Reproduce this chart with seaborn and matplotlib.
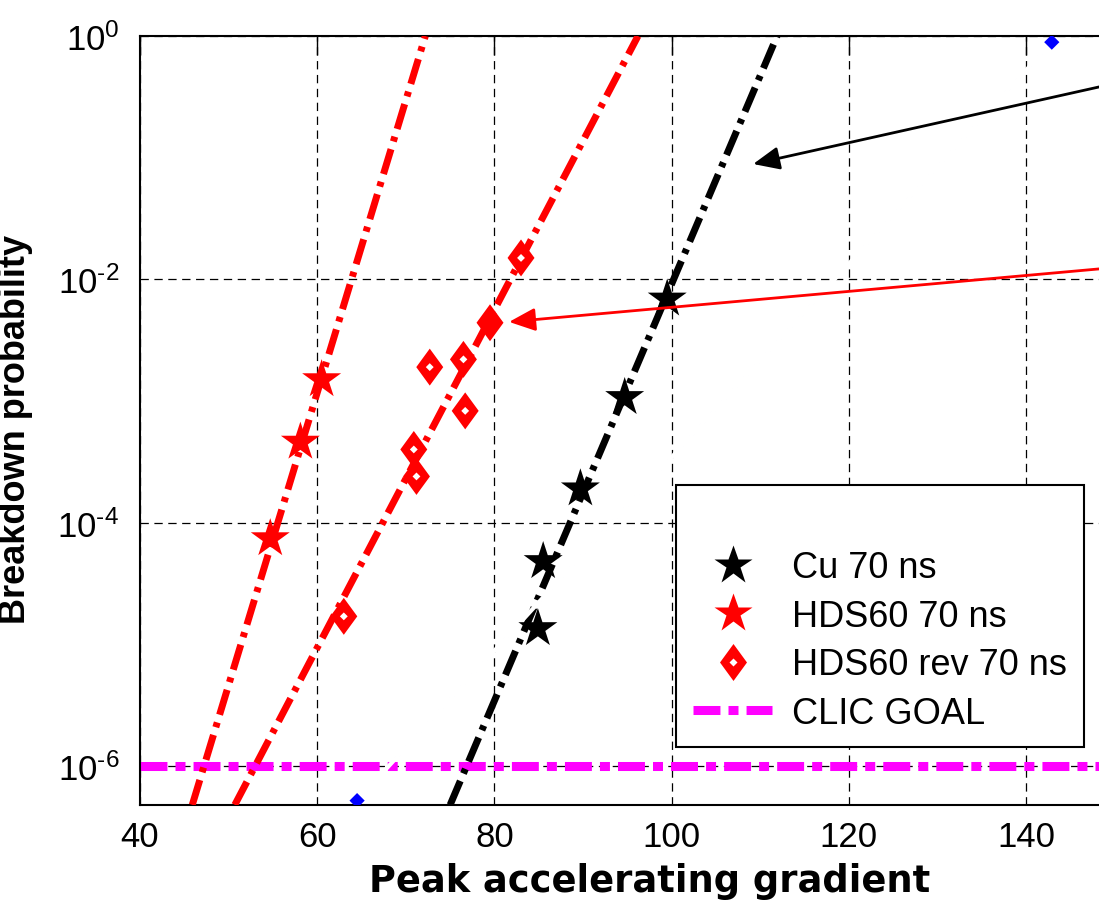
import numpy as np
import matplotlib
matplotlib.use('Agg')
import matplotlib.pyplot as plt
import seaborn as sns
from matplotlib.lines import Line2D
from matplotlib.legend_handler import HandlerTuple
from matplotlib.ticker import FixedLocator, FuncFormatter, NullLocator

# Cu 70 ns, black stars
cu_grad = [84.9, 85.5, 89.7, 94.7, 99.5]
cu_bdr = [1.35e-5, 4.8e-5, 1.9e-4, 1.07e-3, 6.9e-3]

# HDS60 70 ns, red stars
hds_grad = [54.7, 58.1, 60.5]
hds_bdr = [7.4e-5, 4.6e-4, 1.5e-3]

# HDS60 rev 70 ns, red diamonds (open ones + the filled one the arrow points at)
rev_grad = [63.0, 71.2, 70.9, 76.7, 72.7, 76.5, 83.0]
rev_bdr = [1.7e-5, 2.4e-4, 4.0e-4, 8.3e-4, 1.9e-3, 2.2e-3, 1.5e-2]
rev_hi_grad = [79.5]
rev_hi_bdr = [4.4e-3]

# fitted lines, end points
hds_fit_grad = [45.9, 72.2]
hds_fit_bdr = [4.8e-7, 1.0]
rev_fit_grad = [50.7, 96.2]
rev_fit_bdr = [4.8e-7, 1.0]
cu_fit_grad = [75.0, 111.9]
cu_fit_bdr = [4.8e-7, 1.0]

# the half hidden blue series (covered by a white line)
hidden_grad = [64.5, 142.9]
hidden_bdr = [5.2e-7, 0.89]

clic_goal = 1e-6

# arrows: (tip x, tip y, tail x, tail y)
black_arrow = (109.2, 0.0887, 155.0, 0.491)
red_arrow = (81.65, 4.47e-3, 155.0, 0.01349)

x_ticks = [40, 60, 80, 100, 120, 140]
y_ticks = [1e-6, 1e-4, 1e-2, 1e0]

sns.set_style('white')
plt.rcParams['font.family'] = ['Liberation Sans', 'DejaVu Sans']
plt.rcParams['mathtext.fontset'] = 'custom'
plt.rcParams['mathtext.rm'] = 'Liberation Sans'
plt.rcParams['lines.scale_dashes'] = False
plt.rcParams['text.color'] = 'black'
plt.rcParams['axes.labelcolor'] = 'black'

fig = plt.figure(figsize=(10.99, 9.03), dpi=100)
ax = fig.add_axes([140 / 1099, 97 / 903, 1019 / 1099, 769 / 903])
ax.set_yscale('log')

dashdot = (0, (18.7, 5.8, 3.6, 5.8))
clic_style = (0, (19.4, 5.8, 7.2, 5.8))

ax.axhline(clic_goal, color='magenta', lw=6.5, linestyle=clic_style, zorder=2)

sns.lineplot(x=hds_fit_grad, y=hds_fit_bdr, ax=ax, color='red', lw=5, linestyle=dashdot, zorder=3)
sns.lineplot(x=rev_fit_grad, y=rev_fit_bdr, ax=ax, color='red', lw=5, linestyle=dashdot, zorder=3)
sns.lineplot(x=cu_fit_grad, y=cu_fit_bdr, ax=ax, color='black', lw=5, linestyle=dashdot, zorder=3)

# blue line mostly painted over in white
sns.lineplot(x=hidden_grad, y=hidden_bdr, ax=ax, color='blue', lw=1.2, zorder=3.4)
sns.lineplot(x=hidden_grad, y=hidden_bdr, ax=ax, color='white', lw=3.0, zorder=3.5)
sns.scatterplot(x=hidden_grad, y=hidden_bdr, ax=ax, marker='D', s=60, color='blue',
                edgecolor='none', zorder=3.6)

star_s = 29.5 ** 2
diamond = [(0, 1), (0.73, 0), (0, -1), (-0.73, 0), (0, 1)]
diam_s = 26.6 ** 2

sns.scatterplot(x=cu_grad, y=cu_bdr, ax=ax, marker='*', s=star_s, color='black',
                edgecolor='none', zorder=5)
sns.scatterplot(x=hds_grad, y=hds_bdr, ax=ax, marker='*', s=star_s, color='red',
                edgecolor='none', zorder=5)
sns.scatterplot(x=rev_grad, y=rev_bdr, ax=ax, marker=diamond, s=diam_s, color='red',
                edgecolor='none', zorder=5)
sns.scatterplot(x=rev_grad, y=rev_bdr, ax=ax, marker='D', s=16, color='white',
                edgecolor='none', zorder=6)
sns.scatterplot(x=rev_hi_grad, y=rev_hi_bdr, ax=ax, marker=diamond, s=diam_s, color='red',
                edgecolor='none', zorder=5)

for (tx, ty, sx, sy), col in [(black_arrow, 'black'), (red_arrow, 'red')]:
    ax.annotate('', xy=(tx, ty), xytext=(sx, sy), zorder=7,
                arrowprops=dict(arrowstyle='-|>,head_length=0.8,head_width=0.35', color=col,
                                lw=2, shrinkA=0, shrinkB=0, mutation_scale=20))

ax.set_xlim(40, 155)
ax.set_ylim(10 ** -6.32, 1)
ax.xaxis.set_major_locator(FixedLocator(x_ticks))
ax.yaxis.set_major_locator(FixedLocator(y_ticks))
ax.yaxis.set_minor_locator(NullLocator())


def dec_label(v, p):
    e = int(round(np.log10(v)))
    s = str(abs(e)) if e >= 0 else '\u2010' + str(abs(e))
    return r'$\mathregular{10^{%s}}$' % s


ax.yaxis.set_major_formatter(FuncFormatter(dec_label))
ax.grid(True, which='major', color='black', linestyle=(0, (6, 4)), lw=0.9)
ax.set_axisbelow(True)
ax.tick_params(which='major', direction='in', length=14, width=1, top=True, right=True,
               labelsize=25, colors='black')
ax.tick_params(axis='y', pad=15)
ax.tick_params(axis='x', pad=11)
for sp in ax.spines.values():
    sp.set_color('black')
    sp.set_linewidth(1.5)

ax.set_xlabel('Peak accelerating gradient', fontsize=26.5, fontweight='bold',
              family='DejaVu Sans', labelpad=6)
ax.set_ylabel('Breakdown probability', fontsize=26, fontweight='bold')
ax.yaxis.set_label_coords(-0.105, 0.49)

blank = Line2D([], [], lw=0, marker=None)
h_cu = Line2D([], [], lw=0, marker='*', ms=29.5, color='black', mec='none')
h_hds = Line2D([], [], lw=0, marker='*', ms=29.5, color='red', mec='none')
h_rev = (Line2D([], [], lw=0, marker=diamond, ms=26.6, color='red', mec='none'),
         Line2D([], [], lw=0, marker='D', ms=4.5, color='white', mec='none'))
h_clic = Line2D([], [], color='magenta', lw=6.5, linestyle=clic_style)
leg = ax.legend([blank, h_cu, h_hds, h_rev, h_clic],
                ['', 'Cu 70 ns', 'HDS60 70 ns', 'HDS60 rev 70 ns', 'CLIC GOAL'],
                handler_map={tuple: HandlerTuple(ndivide=1)},
                loc='upper left', bbox_to_anchor=(0.526, 0.416), borderaxespad=0,
                fontsize=26, frameon=True, fancybox=False, framealpha=1,
                edgecolor='black', handlelength=2.2, handletextpad=0.55,
                borderpad=0.47, labelspacing=0.37)
leg.get_frame().set_linewidth(1.5)
leg.set_zorder(10)

fig.savefig('out.png', dpi=100)
